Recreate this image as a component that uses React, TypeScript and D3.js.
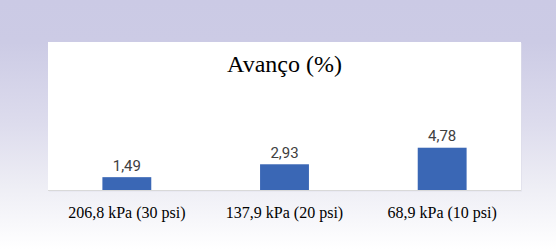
import React from "react";
import * as d3 from "d3";

const categories = ["206,8 kPa (30 psi)", "137,9 kPa (20 psi)", "68,9 kPa (10 psi)"];
const values = [1.49, 2.93, 4.78];
const valueLabels = ["1,49", "2,93", "4,78"];
const title = "Avanço (%)";

const W = 556;
const H = 249;
const box = { left: 48, right: 521, top: 42, bottom: 190.5 };

export default function App() {
  const x = d3
    .scaleBand<string>()
    .domain(categories)
    .range([box.left, box.right])
    .paddingInner(0.69)
    .paddingOuter(0.345);
  const y = d3.scaleLinear().domain([0, 10]).range([box.bottom, box.bottom - 89.5]);

  return (
    <div style={{ position: "absolute", left: 0, top: 0, width: W, height: H }}>
      <svg width={W} height={H} style={{ display: "block" }}>
        <defs>
          <linearGradient id="bg" x1="0" y1="0" x2="0" y2="1">
            <stop offset="0" stopColor="#cbcae5" />
            <stop offset="0.17" stopColor="#cccbe5" />
            <stop offset="0.5" stopColor="#dddced" />
            <stop offset="0.75" stopColor="#eeeef5" />
            <stop offset="0.9" stopColor="#f8f8fb" />
            <stop offset="1" stopColor="#ffffff" />
          </linearGradient>
        </defs>
        <rect x={0} y={0} width={W} height={H} fill="url(#bg)" />
        <rect
          x={box.left + 1}
          y={box.top + 1}
          width={box.right - box.left}
          height={box.bottom - box.top}
          fill="#dcdce8"
          opacity={0.6}
        />
        <rect
          x={box.left}
          y={box.top}
          width={box.right - box.left}
          height={box.bottom - box.top}
          fill="#ffffff"
        />
        <text
          x={(box.left + box.right) / 2}
          y={72}
          textAnchor="middle"
          fontFamily="'Liberation Serif', 'Times New Roman', serif"
          fontSize={24}
          fill="#000"
        >
          {title}
        </text>
        {categories.map((c, i) => {
          const bx = x(c)!;
          const bw = x.bandwidth();
          const yt = y(values[i]);
          return (
            <g key={c}>
              <rect x={bx} y={yt} width={bw} height={y(0) - yt} fill="#3a67b5" />
              <text
                x={bx + bw / 2}
                y={yt - 6.5}
                textAnchor="middle"
                fontFamily="Roboto, 'Open Sans', sans-serif"
                fontSize={15}
                fill="#404040"
              >
                {valueLabels[i]}
              </text>
              <text
                x={bx + bw / 2}
                y={218}
                textAnchor="middle"
                fontFamily="'Liberation Serif', 'Times New Roman', serif"
                fontSize={16}
                fill="#000"
              >
                {c}
              </text>
            </g>
          );
        })}
        <line
          x1={box.left}
          x2={box.right}
          y1={y(0)}
          y2={y(0)}
          stroke="#d9d9d9"
          strokeWidth={1}
        />
      </svg>
    </div>
  );
}
